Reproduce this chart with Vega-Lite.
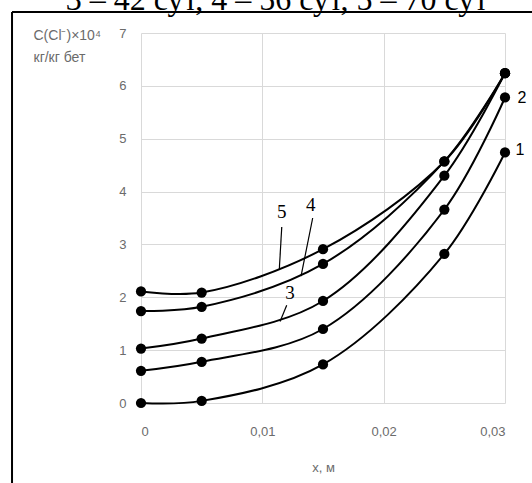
{
  "$schema": "https://vega.github.io/schema/vega-lite/v6.json",
  "width": 364,
  "height": 370,
  "autosize": {"type": "none"},
  "padding": {"left": 141, "top": 33, "right": 27, "bottom": 80},
  "background": "white",
  "config": {
    "view": {"stroke": null},
    "axis": {
      "domain": false,
      "ticks": false,
      "grid": true,
      "gridColor": "#d9d9d9",
      "gridWidth": 1,
      "labelFont": "Liberation Sans",
      "labelFontSize": 13,
      "labelColor": "#6b6b6b",
      "titleFont": "Liberation Sans",
      "titleFontSize": 13,
      "titleFontWeight": "normal",
      "titleColor": "#6b6b6b"
    }
  },
  "datasets": {
    "curves": [
      {"series": "1", "x": 0, "y": 0},
      {"series": "1", "x": 0.005, "y": 0.04},
      {"series": "1", "x": 0.015, "y": 0.73},
      {"series": "1", "x": 0.025, "y": 2.82},
      {"series": "1", "x": 0.03, "y": 4.74},
      {"series": "2", "x": 0, "y": 0.61},
      {"series": "2", "x": 0.005, "y": 0.78},
      {"series": "2", "x": 0.015, "y": 1.4},
      {"series": "2", "x": 0.025, "y": 3.66},
      {"series": "2", "x": 0.03, "y": 5.78},
      {"series": "3", "x": 0, "y": 1.03},
      {"series": "3", "x": 0.005, "y": 1.22},
      {"series": "3", "x": 0.015, "y": 1.93},
      {"series": "3", "x": 0.025, "y": 4.3},
      {"series": "3", "x": 0.03, "y": 6.24},
      {"series": "4", "x": 0, "y": 1.74},
      {"series": "4", "x": 0.005, "y": 1.82},
      {"series": "4", "x": 0.015, "y": 2.63},
      {"series": "4", "x": 0.025, "y": 4.57},
      {"series": "4", "x": 0.03, "y": 6.24},
      {"series": "5", "x": 0, "y": 2.11},
      {"series": "5", "x": 0.005, "y": 2.09},
      {"series": "5", "x": 0.015, "y": 2.91},
      {"series": "5", "x": 0.025, "y": 4.57},
      {"series": "5", "x": 0.03, "y": 6.24}
    ],
    "leaders": [
      {"x": 0.0116, "y": 3.33, "x2": 0.0114, "y2": 2.53},
      {"x": 0.01415, "y": 3.5, "x2": 0.01319, "y2": 2.4},
      {"x": 0.01201, "y": 1.85, "x2": 0.01146, "y2": 1.54}
    ],
    "serifLabels": [
      {"label": "5", "x": 0.0116, "y": 3.61},
      {"label": "4", "x": 0.01399, "y": 3.75},
      {"label": "3", "x": 0.01228, "y": 2.08}
    ],
    "sansLabels": [
      {"label": "1", "x": 0.03124, "y": 4.79},
      {"label": "2", "x": 0.0314, "y": 5.77}
    ],
    "caption": [
      {"label": "3 – 42 сут, 4 – 56 сут, 5 – 70 сут", "x": 0.01121, "y": 7.426}
    ],
    "frame": [
      {"x": -0.01063, "y": -2, "x2": -0.01063, "y2": 7.397},
      {"x": -0.01063, "y": 7.397, "x2": 0.04, "y2": 7.397}
    ]
  },
  "encoding": {
    "x": {
      "field": "x",
      "type": "quantitative",
      "scale": {"domain": [0, 0.03], "nice": false, "zero": false},
      "axis": {
        "values": [0, 0.01, 0.02, 0.03],
        "format": ".2~f",
        "labelExpr": "replace(datum.label, '.', ',')",
        "labelPadding": 22,
        "title": "x, м",
        "titleBaseline": "alphabetic",
        "titleY": 68
      }
    },
    "y": {
      "field": "y",
      "type": "quantitative",
      "scale": {"domain": [0, 7], "nice": false},
      "axis": {
        "values": [0, 1, 2, 3, 4, 5, 6, 7],
        "labelPadding": 15,
        "title": ["C(Cl⁻)×10⁴", "кг/кг бет"],
        "titleFontSize": 14,
        "titleAngle": 0,
        "titleAlign": "left",
        "titleBaseline": "alphabetic",
        "titleX": -108,
        "titleY": 6.5,
        "titleLineHeight": 22
      }
    }
  },
  "layer": [
    {
      "data": {"name": "curves"},
      "mark": {"type": "line", "interpolate": "catmull-rom", "color": "black", "strokeWidth": 2},
      "encoding": {
        "detail": {"field": "series", "type": "nominal"}
      }
    },
    {
      "data": {"name": "curves"},
      "mark": {"type": "circle", "color": "black", "opacity": 1, "size": 105}
    },
    {
      "data": {"name": "leaders"},
      "mark": {"type": "rule", "color": "black", "strokeWidth": 1.2},
      "encoding": {
        "x2": {"field": "x2"},
        "y2": {"field": "y2"}
      }
    },
    {
      "data": {"name": "serifLabels"},
      "mark": {"type": "text", "font": "Liberation Serif", "fontSize": 19, "color": "black", "align": "center", "baseline": "middle"},
      "encoding": {
        "text": {"field": "label"}
      }
    },
    {
      "data": {"name": "sansLabels"},
      "mark": {"type": "text", "font": "Liberation Sans", "fontSize": 16, "color": "black", "align": "center", "baseline": "middle"},
      "encoding": {
        "text": {"field": "label"}
      }
    },
    {
      "data": {"name": "caption"},
      "mark": {"type": "text", "font": "Liberation Serif", "fontSize": 32, "color": "black", "align": "center", "baseline": "alphabetic"},
      "encoding": {
        "text": {"field": "label"}
      }
    },
    {
      "data": {"name": "frame"},
      "mark": {"type": "rule", "color": "black", "strokeWidth": 2},
      "encoding": {
        "x2": {"field": "x2"},
        "y2": {"field": "y2"}
      }
    }
  ]
}
